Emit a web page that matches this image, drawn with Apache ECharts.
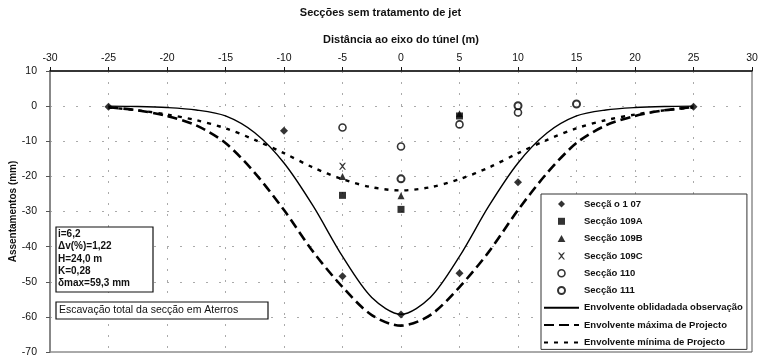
<!DOCTYPE html>
<html>
<head>
<meta charset="utf-8">
<script src="https://cdn.jsdelivr.net/npm/echarts@6/dist/echarts.min.js"></script>
<style>
  html, body { margin: 0; padding: 0; background: #fff; }
  #chart { width: 761px; height: 358px; }
</style>
</head>
<body>
<div id="chart"></div>
<script>
// x positions of the envelope curves (m)
const xCurve = [-25, -22.5, -20, -17.5, -15, -12.5, -10, -7.5, -5, -2.5, 0, 2.5, 5, 7.5, 10, 12.5, 15, 17.5, 20, 22.5, 25];
// settlements (mm)
const obsEnvelope = [0, -0.1, -0.4, -1.1, -2.8, -7.6, -16.2, -28.5, -42.8, -54.5, -59.3, -54.5, -42.8, -28.5, -16.2, -7.6, -2.8, -1.1, -0.4, -0.1, 0];
const maxEnvelope = [-0.3, -1.2, -2.8, -5.5, -10.5, -19, -29.6, -41.5, -51.5, -59.5, -62.5, -59.5, -51.5, -41.5, -29.6, -19, -10.5, -5.5, -2.8, -1.2, -0.3];
const minEnvelope = [-0.4, -1.2, -2.4, -4, -6.3, -9.6, -13.4, -17.5, -20.8, -23.1, -24, -23.1, -20.8, -17.5, -13.4, -9.6, -6.3, -4, -2.4, -1.2, -0.4];

// measured points [x, settlement]
const sec107 = [[-25, -0.2], [-10, -7], [-5, -48.4], [0, -59.3], [5, -47.6], [10, -21.7], [25, -0.2]];
const sec109A = [[-5, -25.4], [0, -29.4], [5, -2.8]];
const sec109B = [[-5, -20], [0, -25.5], [5, -2.2]];
const sec109C = [[-5, -17.1]];
const sec110 = [[-5, -6.1], [0, -11.5], [5, -5.2], [10, -1.8]];
const sec111 = [[0, -20.7], [10, 0.1], [15, 0.6]];

const paramLines = ['i=6,2', '\u0394v(%)=1,22', 'H=24,0 m', 'K=0,28', '\u03b4max=59,3 mm'];

const FONT = 'Arial, "Liberation Sans", sans-serif';
const pair = ys => xCurve.map((x, i) => [x, ys[i]]);

// marker shapes as paths so the legend keeps their aspect
const DIAMOND = 'path://M5,0L10,5L5,10L0,5Z';
const SQUARE = 'path://M0,0L10,0L10,10L0,10Z';
const TRIANGLE = 'path://M5,0L10,9L0,9Z';
const CROSS = 'path://M0,0L2,0L5,3L8,0L10,0L6,5L10,10L8,10L5,7L2,10L0,10L4,5Z';

const chart = echarts.init(document.getElementById('chart'));

const scatter = (name, data, symbol, size, extra) => ({
  name,
  type: 'scatter',
  data,
  symbol,
  symbolSize: size,
  itemStyle: Object.assign({ color: '#000' }, extra || {}),
  z: 5,
});

const ringStyle = w => ({ color: '#fff', borderColor: '#000', borderWidth: w });
const noDot = { opacity: 0 };

const option = {
  animation: false,
  textStyle: { fontFamily: FONT },
  title: {
    text: 'Secções sem tratamento de jet',
    left: 'center',
    top: 2,
    textStyle: { fontSize: 11, fontWeight: 'bold', color: '#111', fontFamily: FONT },
  },
  grid: {
    left: 50, right: 9, top: 71, bottom: 6,
    containLabel: false,
    outerBoundsMode: 'none',
    show: true, borderColor: '#555', borderWidth: 1,
  },
  legend: {
    orient: 'vertical',
    left: 541,
    top: 194,
    height: 162,
    padding: [5, 4, 2, 2],
    itemWidth: 35,
    itemHeight: 7,
    itemGap: 7.3,
    symbolKeepAspect: true,
    backgroundColor: '#fff',
    borderColor: '#333',
    borderWidth: 1,
    textStyle: { fontSize: 9.5, fontWeight: 'bold', color: '#111', fontFamily: FONT },
    data: [
      { name: 'Secçã o 1 07', icon: DIAMOND },
      { name: 'Secção 109A', icon: SQUARE },
      { name: 'Secção 109B', icon: TRIANGLE },
      { name: 'Secção 109C', icon: CROSS },
      { name: 'Secção 110', icon: 'circle', itemStyle: ringStyle(1.6) },
      { name: 'Secção 111', icon: 'circle', itemStyle: ringStyle(2) },
      { name: 'Envolvente oblidadada observação', itemStyle: noDot },
      { name: 'Envolvente máxima de Projecto', itemStyle: noDot },
      { name: 'Envolvente mínima de Projecto', itemStyle: noDot },
    ],
  },
  xAxis: {
    type: 'value',
    position: 'top',
    min: -30, max: 30, interval: 5,
    name: 'Distância ao eixo do túnel (m)',
    nameLocation: 'middle',
    nameGap: 26,
    nameTextStyle: { fontSize: 11, fontWeight: 'bold', color: '#111' },
    axisLine: { onZero: false, lineStyle: { color: '#111', width: 1.5 } },
    axisTick: { length: 4, lineStyle: { color: '#111' } },
    axisLabel: { fontSize: 10.5, color: '#111', margin: 7 },
    splitLine: { show: true, lineStyle: { color: '#aaa', type: [2, 9] } },
  },
  yAxis: {
    type: 'value',
    min: -70, max: 10, interval: 10,
    name: 'Assentamentos (mm)',
    nameLocation: 'middle',
    nameGap: 32,
    nameMoveOverlap: false,
    nameTextStyle: { fontSize: 10, fontWeight: 'bold', color: '#111' },
    axisLine: { show: true, onZero: false, lineStyle: { color: '#888', width: 2 } },
    axisTick: { show: true, length: 4, lineStyle: { color: '#555' } },
    axisLabel: { fontSize: 10.5, color: '#111', margin: 13 },
    splitLine: { show: true, lineStyle: { color: '#aaa', type: [2, 11] } },
  },
  graphic: [
    { type: 'rect', shape: { x: 56, y: 227, width: 97, height: 65 }, style: { fill: '#fff', stroke: '#111', lineWidth: 1.2 }, z: 10 },
    ...paramLines.map((t, i) => ({
      type: 'text', x: 58, y: 234 + i * 12.4, z: 11,
      style: { text: t, font: 'bold 10px ' + FONT, fill: '#111', verticalAlign: 'middle' },
    })),
    { type: 'rect', shape: { x: 56, y: 302, width: 212, height: 17 }, style: { fill: '#fff', stroke: '#111', lineWidth: 1.2 }, z: 10 },
    { type: 'text', x: 59, y: 310.5, z: 11,
      style: { text: 'Escavação total da secção em Aterros', font: '10.5px ' + FONT, fill: '#111', verticalAlign: 'middle' } },
  ],
  series: [
    {
      name: 'Envolvente oblidadada observação', type: 'line', data: pair(obsEnvelope),
      smooth: 0.3, symbol: 'none', lineStyle: { color: '#000', width: 1.4 }, itemStyle: { color: '#000' },
    },
    {
      name: 'Envolvente máxima de Projecto', type: 'line', data: pair(maxEnvelope),
      smooth: 0.3, symbol: 'none', lineStyle: { color: '#000', width: 2.6, type: [10, 5] }, itemStyle: { color: '#000' },
    },
    {
      name: 'Envolvente mínima de Projecto', type: 'line', data: pair(minEnvelope),
      smooth: 0.3, symbol: 'none', lineStyle: { color: '#000', width: 2.4, type: [4, 6] }, itemStyle: { color: '#000' },
    },
    scatter('Secçã o 1 07', sec107, DIAMOND, 8),
    scatter('Secção 109A', sec109A, SQUARE, 7),
    scatter('Secção 109B', sec109B, TRIANGLE, 7),
    scatter('Secção 109C', sec109C, CROSS, 7),
    scatter('Secção 110', sec110, 'circle', 7, ringStyle(1.6)),
    scatter('Secção 111', sec111, 'circle', 7, ringStyle(2)),
  ],
};

chart.setOption(option);
</script>
</body>
</html>
